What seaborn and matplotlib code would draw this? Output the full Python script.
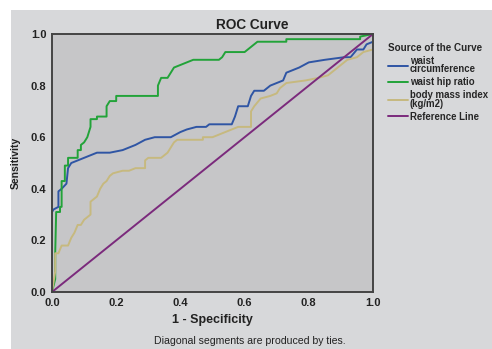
import pandas as pd
import matplotlib
matplotlib.use("Agg")
import matplotlib.pyplot as plt
import seaborn as sns
from matplotlib.patches import Rectangle

# ROC curve points (1 - specificity, sensitivity)
wc_x = [0.0, 0.0, 0.005, 0.02, 0.02, 0.03, 0.045, 0.05, 0.06, 0.08, 0.10, 0.12, 0.14, 0.18,
        0.22, 0.26, 0.29, 0.32, 0.37, 0.40, 0.42, 0.45, 0.48, 0.49, 0.56, 0.57, 0.58, 0.61,
        0.62, 0.63, 0.66, 0.68, 0.70, 0.72, 0.73, 0.75, 0.77, 0.80, 0.85, 0.91, 0.93, 0.95,
        0.97, 0.98, 1.0, 1.0]
wc_y = [0.0, 0.31, 0.32, 0.33, 0.39, 0.40, 0.42, 0.48, 0.50, 0.51, 0.52, 0.53, 0.54, 0.54,
        0.55, 0.57, 0.59, 0.60, 0.60, 0.62, 0.63, 0.64, 0.64, 0.65, 0.65, 0.68, 0.72, 0.72,
        0.76, 0.78, 0.78, 0.80, 0.81, 0.82, 0.85, 0.86, 0.87, 0.89, 0.90, 0.91, 0.91, 0.94,
        0.94, 0.96, 0.97, 1.0]

whr_x = [0.0, 0.01, 0.01, 0.013, 0.025, 0.025, 0.03, 0.03, 0.04, 0.04, 0.05, 0.05, 0.08,
         0.08, 0.09, 0.09, 0.10, 0.11, 0.12, 0.12, 0.14, 0.14, 0.17, 0.17, 0.18, 0.20, 0.20,
         0.33, 0.33, 0.34, 0.36, 0.37, 0.38, 0.40, 0.42, 0.44, 0.52, 0.53, 0.54, 0.60, 0.61,
         0.62, 0.64, 0.73, 0.73, 0.96, 0.96, 1.0]
whr_y = [0.0, 0.05, 0.15, 0.31, 0.31, 0.33, 0.33, 0.43, 0.43, 0.49, 0.49, 0.52, 0.52, 0.55,
         0.55, 0.57, 0.58, 0.60, 0.64, 0.67, 0.67, 0.68, 0.68, 0.72, 0.74, 0.74, 0.76, 0.76,
         0.80, 0.83, 0.83, 0.85, 0.87, 0.88, 0.89, 0.90, 0.90, 0.91, 0.93, 0.93, 0.94, 0.95,
         0.97, 0.97, 0.98, 0.98, 0.99, 1.0]

bmi_x = [0.0, 0.01, 0.01, 0.02, 0.03, 0.05, 0.06, 0.07, 0.08, 0.09, 0.10, 0.11, 0.12, 0.12,
         0.13, 0.14, 0.15, 0.16, 0.17, 0.18, 0.19, 0.22, 0.24, 0.26, 0.29, 0.29, 0.30, 0.34,
         0.36, 0.37, 0.38, 0.39, 0.47, 0.47, 0.50, 0.52, 0.54, 0.56, 0.58, 0.62, 0.62, 0.63,
         0.65, 0.68, 0.70, 0.71, 0.73, 0.79, 0.83, 0.86, 0.88, 0.90, 0.92, 0.95, 0.97, 1.0, 1.0]
bmi_y = [0.0, 0.08, 0.15, 0.15, 0.18, 0.18, 0.21, 0.23, 0.26, 0.26, 0.28, 0.29, 0.30, 0.35,
         0.36, 0.37, 0.40, 0.42, 0.43, 0.45, 0.46, 0.47, 0.47, 0.48, 0.48, 0.51, 0.52, 0.52,
         0.54, 0.56, 0.58, 0.59, 0.59, 0.60, 0.60, 0.61, 0.62, 0.63, 0.64, 0.64, 0.70, 0.72,
         0.75, 0.76, 0.77, 0.79, 0.81, 0.82, 0.83, 0.84, 0.86, 0.88, 0.90, 0.91, 0.93, 0.94, 1.0]

ref_x = [0.0, 1.0]
ref_y = [0.0, 1.0]

labels = ["waist\ncircumference", "waist hip ratio", "body mass index\n(kg/m2)", "Reference Line"]
colors = ["#2f55a4", "#22a339", "#c6b97f", "#7b2a7c"]

df = pd.concat([
    pd.DataFrame({"x": wc_x, "y": wc_y, "src": labels[0]}),
    pd.DataFrame({"x": whr_x, "y": whr_y, "src": labels[1]}),
    pd.DataFrame({"x": bmi_x, "y": bmi_y, "src": labels[2]}),
    pd.DataFrame({"x": ref_x, "y": ref_y, "src": labels[3]}),
])

sns.set_style("white")
plt.rcParams["font.family"] = ["Liberation Sans", "DejaVu Sans"]
plt.rcParams["font.weight"] = "bold"

fig = plt.figure(figsize=(4.92, 3.49), dpi=100)
fig.patch.set_facecolor("white")
fig.patches.append(Rectangle((11 / 492, 0), 1, 339 / 349, transform=fig.transFigure,
                             facecolor="#d7d8da", edgecolor="none", zorder=-10))

ax = fig.add_axes([52 / 492, 1 - 292 / 349, 321 / 492, 258 / 349])
ax.set_facecolor("#c6c6c8")

sns.lineplot(data=df, x="x", y="y", hue="src", palette=colors, sort=False,
             estimator=None, linewidth=1.4, ax=ax)

ticks = [0, 0.2, 0.4, 0.6, 0.8, 1.0]
tick_labels = ["0.0", "0.2", "0.4", "0.6", "0.8", "1.0"]
ax.set_xlim(0, 1)
ax.set_ylim(0, 1)
ax.set_xticks(ticks)
ax.set_yticks(ticks)
ax.set_xticklabels(tick_labels, fontsize=8, fontweight="bold", color="#222222")
ax.set_yticklabels(tick_labels, fontsize=8, fontweight="bold", color="#222222")
ax.tick_params(direction="out", length=3, width=1, color="#333333", pad=1)
for s in ax.spines.values():
    s.set_color("#444444")
    s.set_linewidth(1.4)

ax.set_xlabel("1 - Specificity", fontsize=9, fontweight="bold", labelpad=5, color="#222222")
ax.set_ylabel("")
fig.text(16 / 492, 1 - 163 / 349, "Sensitivity", rotation=90, fontsize=7.5,
         fontweight="bold", ha="center", va="center", color="#222222")
fig.text(252 / 492, 1 - 25 / 349, "ROC Curve", fontsize=9.8, fontweight="bold",
         ha="center", va="center", color="#222222")
fig.text(250 / 492, 1 - 341 / 349, "Diagonal segments are produced by ties.",
         fontsize=7.6, fontweight="normal", ha="center", va="center", color="#222222")

handles, _ = ax.get_legend_handles_labels()
leg = ax.legend(handles, labels, title="Source of the Curve", loc="upper left",
                bbox_to_anchor=(381 / 492, 1 - 36 / 349), bbox_transform=fig.transFigure,
                frameon=False, fontsize=6.9, title_fontsize=7.1, handlelength=2.1,
                handletextpad=0.2, labelspacing=0.3, alignment="left", borderpad=0.2)
leg.get_title().set_fontweight("bold")
for t in leg.get_texts():
    t.set_fontweight("bold")
    t.set_linespacing(0.85)

fig.savefig("out.png", dpi=100)
